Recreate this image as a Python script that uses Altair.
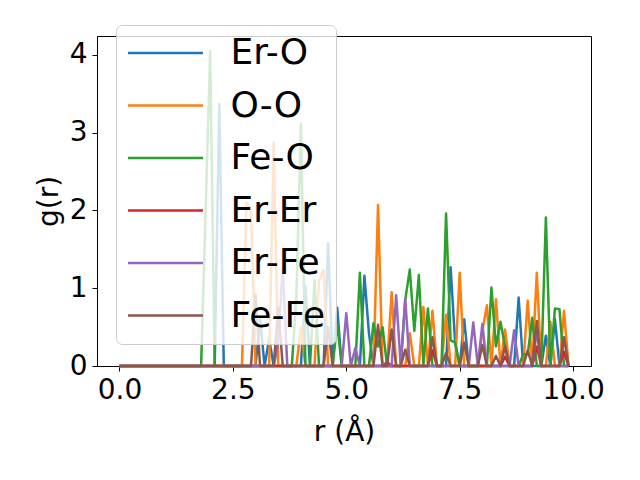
import altair as alt
import pandas as pd

# r grid (Å) shared by all pair-distribution curves: 0.0 ... 9.9
R_STEP_COUNT = 100
R_GRID = [round(i * 0.1, 1) for i in range(R_STEP_COUNT)]

PAIRS = ["Er-O", "O-O", "Fe-O", "Er-Er", "Er-Fe", "Fe-Fe"]
COLORS = ["#1f77b4", "#ff7f0e", "#2ca02c", "#d62728", "#9467bd", "#8c564b"]

# non-zero g(r) values (all other grid points are 0)
ER_O = {2.2: 3.37, 3.1: 0.6, 3.3: 0.35, 4.1: 1.02, 4.6: 1.58, 4.8: 0.75,
        5.4: 1.16, 5.5: 0.42, 7.3: 1.27, 7.4: 0.3, 7.6: 0.6, 8.8: 0.88,
        9.4: 0.39, 9.6: 0.6}
O_O = {2.8: 2.1, 2.9: 2.0, 3.4: 2.87, 4.0: 0.5, 4.4: 1.1, 4.5: 1.24,
       5.7: 2.07, 6.0: 0.95, 6.4: 0.42, 6.7: 0.76, 6.9: 0.71, 7.2: 0.66,
       7.5: 1.2, 8.0: 0.45, 8.1: 0.78, 8.3: 0.86, 8.5: 0.47, 9.0: 0.84,
       9.2: 1.2, 9.5: 0.57, 9.8: 0.71}
FE_O = {1.9: 2.0, 2.0: 4.05, 3.9: 0.9, 4.0: 3.12, 4.3: 1.1, 4.8: 0.55,
        5.3: 1.2, 5.6: 0.55, 5.7: 0.25, 5.8: 0.5, 6.3: 0.85, 6.4: 1.24,
        6.5: 0.45, 6.6: 1.17, 6.8: 0.74, 7.2: 1.96, 7.3: 0.33, 7.4: 0.3,
        8.2: 1.01, 8.3: 0.25, 8.4: 0.57, 8.5: 0.25, 8.9: 0.15, 9.0: 0.15,
        9.1: 0.62, 9.4: 1.91, 9.6: 0.74, 9.7: 0.73}
ER_ER = {5.9: 0.05, 6.9: 0.2, 8.5: 0.12, 9.2: 0.25, 9.8: 0.18}
ER_FE = {3.5: 0.3, 3.6: 1.28, 5.0: 0.68, 5.2: 0.23, 6.1: 0.91, 6.3: 0.86,
         7.8: 0.56, 8.0: 0.54, 8.7: 0.46, 9.2: 0.45}
FE_FE = {3.0: 0.92, 3.5: 0.75, 4.6: 0.5, 5.7: 0.53, 6.0: 0.47, 6.3: 0.21,
         6.9: 0.37, 7.2: 0.17, 7.6: 0.3, 8.0: 0.27, 8.3: 0.13, 8.5: 0.25,
         9.0: 0.2, 9.2: 0.58, 9.8: 0.37}

SERIES = [ER_O, O_O, FE_O, ER_ER, ER_FE, FE_FE]

X_TICKS = [0, 2.5, 5, 7.5, 10]
Y_TICKS = [0, 1, 2, 3, 4]

rows = []
for k, (name, vals) in enumerate(zip(PAIRS, SERIES)):
    for r in R_GRID:
        rows.append({"r": r, "g": vals.get(r, 0.0), "pair": name, "k": k})
df = pd.DataFrame(rows)

FONT = "DejaVu Sans"

axis_common = dict(
    labelFontSize=28, titleFontSize=28, labelFont=FONT, titleFont=FONT,
    labelColor="black", titleColor="black", tickColor="black",
    tickSize=5, tickWidth=1, grid=False, domain=False,
    titleFontWeight="normal", labelFlush=False, labelOverlap=False,
)

chart = alt.Chart(df).mark_line(strokeWidth=2.5, strokeJoin="round").encode(
    x=alt.X("r:Q",
            scale=alt.Scale(domain=[-0.495, 10.395], nice=False, zero=False),
            axis=alt.Axis(values=X_TICKS, format=".1f", title="r (Å)",
                          labelPadding=5, titlePadding=14, **axis_common)),
    y=alt.Y("g:Q",
            scale=alt.Scale(domain=[0, 4.244], nice=False, zero=False),
            axis=alt.Axis(values=Y_TICKS, format="d", title="g(r)",
                          labelPadding=5, titlePadding=6, **axis_common)),
    color=alt.Color("pair:N", sort=PAIRS,
                    scale=alt.Scale(domain=PAIRS, range=COLORS),
                    legend=alt.Legend(
                        title=None, orient="none", legendX=19, legendY=-11,
                        symbolType="M-3.75,0H3.75", symbolSize=400,
                        symbolStrokeWidth=2.5, symbolOffset=21.5,
                        labelOffset=47, labelFontSize=36, labelFont=FONT,
                        labelColor="black", labelLimit=400,
                        labelExpr="datum.label + '\u00a0'",
                        rowPadding=16.5, padding=10,
                        fillColor="rgba(255,255,255,0.8)",
                        strokeColor="#cccccc", cornerRadius=6)),
    order=alt.Order("r:Q"),
).properties(
    width=494, height=330,
    autosize=alt.AutoSizeParams(type="none"),
    padding={"left": 89, "top": 28, "right": 41, "bottom": 100},
    background="white",
).configure_view(stroke="black", strokeWidth=1)

chart.save("out.html", embed_options={"renderer": "svg", "actions": False})
